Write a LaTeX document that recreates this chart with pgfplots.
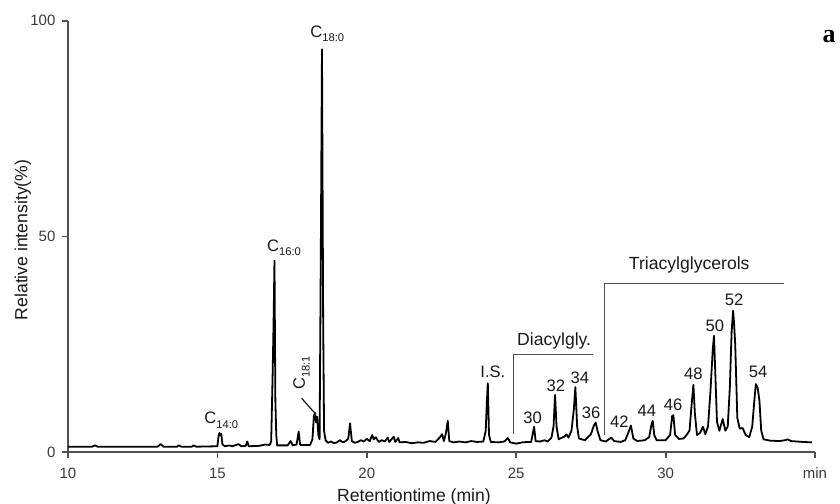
\documentclass[border=0pt]{standalone}
\usepackage{pgfplots}
\pgfplotsset{compat=1.18}
\usepackage{fontspec}
\setmainfont{Liberation Sans}
\newfontfamily\serifb{Liberation Serif}
\definecolor{axgray}{RGB}{80,80,80}
\definecolor{txt}{RGB}{25,25,25}
\newcommand{\Cl}[1]{C\raisebox{-2.3bp}{\fontsize{5.6bp}{6bp}\selectfont #1}}
\begin{document}
\begin{tikzpicture}
\useasboundingbox (-34bp,-25.85bp) rectangle (386bp,226.15bp);
\begin{axis}[
  at={(0,0)}, anchor=south west,
  scale only axis, width=373.5bp, height=215.8bp,
  xmin=10, xmax=35, ymin=0, ymax=100,
  axis x line=bottom, axis y line=left,
  axis line style={-, axgray, line width=1bp},
  tick align=outside, major tick length=2.8bp,
  tick style={axgray, line width=0.9bp},
  xtick={10,15,20,25,30,35}, xticklabels={10,15,20,25,30,min},
  ytick={0,50,100}, yticklabels={0,50,100},
  ticklabel style={font=\fontsize{7.5bp}{8bp}\selectfont, text=txt!85!white},
  xticklabel style={yshift=-1.5bp},
  /pgf/number format/assume math mode=true,
  clip=false,
]
\addplot[black, line width=0.9bp, line join=round] coordinates {
(10.0,1.3) (10.8,1.3) (10.9,1.6) (11.0,1.3) (13.0,1.3) (13.1,1.9) (13.2,1.3)
(13.65,1.3) (13.7,1.6) (13.8,1.3) (14.15,1.3) (14.2,1.6) (14.3,1.3)
(15.0,1.4) (15.04,3.8) (15.07,4.5) (15.1,3.9) (15.13,4.3) (15.17,1.8) (15.25,1.4)
(15.4,1.6) (15.5,1.4) (15.7,1.9) (15.8,1.4) (15.95,1.5) (16.0,2.5) (16.05,1.4)
(16.4,1.5) (16.6,1.8) (16.75,1.7) (16.8,2.5) (16.85,18.5) (16.88,30) (16.91,44.4)
(16.94,12) (16.97,4) (17.0,1.6) (17.35,1.6) (17.45,2.6) (17.52,1.6) (17.65,1.8)
(17.72,4.8) (17.77,1.7) (18.1,1.7) (18.18,3) (18.23,8.5) (18.27,9.1) (18.3,7)
(18.34,8.2) (18.38,4) (18.42,3) (18.46,45) (18.5,93.4) (18.54,30) (18.57,5)
(18.62,2.8) (18.7,2.2) (18.8,2.5) (18.9,2.1) (19.0,2.3) (19.1,2.8) (19.2,2.3)
(19.3,2.6) (19.38,3.2) (19.44,6.7) (19.5,2.6) (19.6,2.2) (19.7,2.4) (19.8,2.8)
(19.9,2.5) (20.0,3.1) (20.1,2.6) (20.18,4.0) (20.23,3.0) (20.3,3.5) (20.4,2.4)
(20.5,2.8) (20.6,2.5) (20.7,3.4) (20.75,2.4) (20.9,3.6) (20.95,2.4) (21.05,3.3)
(21.1,2.3) (21.3,2.4) (21.5,2.1) (21.7,2.3) (21.9,2.2) (22.1,2.6) (22.3,2.4)
(22.45,3.5) (22.52,4.2) (22.58,2.6) (22.65,4.5) (22.71,7.3) (22.76,2.6) (22.9,2.3)
(23.1,2.5) (23.3,2.3) (23.5,2.6) (23.7,2.4) (23.9,2.5) (23.98,5) (24.02,12)
(24.05,16) (24.09,4) (24.15,2.4) (24.4,2.3) (24.6,2.5) (24.72,3.3) (24.8,2.3)
(25.0,2.0) (25.2,2.3) (25.4,2.4) (25.5,2.4) (25.56,4.5) (25.6,5.9) (25.65,2.6)
(25.8,2.5) (25.95,2.8) (26.05,2.5) (26.18,3.4) (26.25,6) (26.3,13.3) (26.35,6)
(26.42,3.0) (26.5,3.3) (26.6,3.6) (26.69,4.1) (26.75,3.4) (26.85,5) (26.93,10)
(26.98,15.1) (27.04,6) (27.1,3.2) (27.3,2.8) (27.5,4.2) (27.6,6.2) (27.66,6.9)
(27.72,5) (27.82,2.8) (28.0,2.5) (28.18,3.4) (28.28,2.6) (28.5,2.4) (28.65,2.8)
(28.75,4.5) (28.84,6.2) (28.92,3.2) (29.05,2.6) (29.3,2.8) (29.45,3.5) (29.53,6.5)
(29.57,7.3) (29.62,4) (29.7,2.8) (30.0,2.8) (30.15,4) (30.22,8.4) (30.26,8.6)
(30.32,4) (30.45,3.1) (30.6,3.2) (30.7,4) (30.8,5) (30.87,11) (30.93,15.6)
(30.98,9) (31.05,4) (31.15,4.5) (31.25,5.9) (31.33,4.2) (31.42,6) (31.5,14)
(31.58,24) (31.62,27.0) (31.66,19) (31.72,7) (31.8,5) (31.91,7.7) (32.0,5)
(32.08,6) (32.15,15) (32.21,28) (32.26,32.8) (32.29,30) (32.33,25) (32.4,8)
(32.48,5.5) (32.58,5.6) (32.68,4) (32.8,3.5) (32.9,6) (32.97,12) (33.02,15.8)
(33.08,15) (33.14,12) (33.2,5) (33.28,3) (33.5,2.7) (33.8,2.6) (34.0,2.8)
(34.08,3.0) (34.2,2.6) (34.6,2.4) (34.9,2.3)
};
% axis labels
\node[rotate=90, font=\fontsize{8.8bp}{10bp}\selectfont, text=txt, inner sep=0pt] at (axis cs:8.49,49.2) {Relative intensity(\%)};
\node[font=\fontsize{8.8bp}{10bp}\selectfont, text=txt, inner sep=0pt] at (axis cs:21.58,-10.3) {Retentiontime (min)};
% panel letter
\node[font=\serifb\bfseries\fontsize{13bp}{14bp}\selectfont, inner sep=0pt] at (axis cs:35.47,96.25) {a};
% fatty acid labels
\begin{scope}[every node/.style={font=\fontsize{8.3bp}{9bp}\selectfont, text=txt, inner sep=0pt}]
\node[anchor=base west] at (axis cs:14.55,6.56) {\Cl{14:0}};
\node[anchor=base west] at (axis cs:16.65,46.6) {\Cl{16:0}};
\node[anchor=base west] at (axis cs:18.1,96.2) {\Cl{18:0}};
\node[anchor=base west, rotate=90] at (axis cs:17.93,14.4) {\Cl{18:1}};
\end{scope}
\draw[txt, line width=0.6bp] (axis cs:17.82,12.5) -- (axis cs:18.3,8.8);
% numbered labels
\begin{scope}[every node/.style={font=\fontsize{8.3bp}{9bp}\selectfont, text=txt, inner sep=0pt, anchor=center}]
\node at (axis cs:24.22,18.7) {I.S.};
\node at (axis cs:25.55,8.07) {30};
\node at (axis cs:26.33,15.4) {32};
\node at (axis cs:27.13,17.3) {34};
\node at (axis cs:27.51,9.1) {36};
\node at (axis cs:28.45,7.1) {42};
\node at (axis cs:29.37,9.7) {44};
\node at (axis cs:30.25,11.0) {46};
\node at (axis cs:30.93,18.1) {48};
\node at (axis cs:31.65,29.4) {50};
\node at (axis cs:32.29,35.3) {52};
\node at (axis cs:33.1,18.7) {54};
\end{scope}
% group brackets
\draw[axgray, line width=0.6bp] (axis cs:24.9,4.2) -- (axis cs:24.9,22.7) -- (axis cs:27.58,22.7);
\draw[axgray, line width=0.6bp] (axis cs:27.95,4.0) -- (axis cs:27.95,39.2) -- (axis cs:33.96,39.2);
\node[font=\fontsize{8.8bp}{10bp}\selectfont, text=txt, inner sep=0pt, anchor=base] at (axis cs:26.27,24.8) {Diacylgly.};
\node[font=\fontsize{8.8bp}{10bp}\selectfont, text=txt, inner sep=0pt, anchor=base] at (axis cs:30.79,42.3) {Triacylglycerols};
\end{axis}
\end{tikzpicture}
\end{document}
